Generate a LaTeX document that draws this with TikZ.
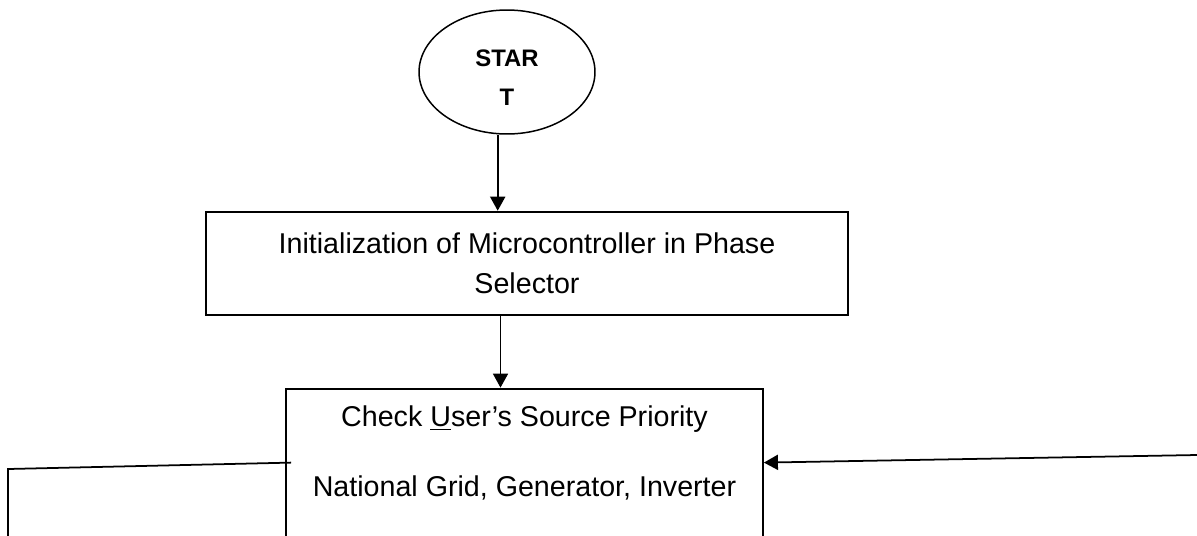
\documentclass[tikz,border=0pt]{standalone}
\usepackage{fontspec}
\setmainfont{Liberation Sans}
\usepackage{tikz}
\usetikzlibrary{shapes.geometric, arrows.meta, positioning, calc}

\begin{document}
\begin{tikzpicture}[
  x=0.02cm, y=-0.02cm,
  poc/.style={draw, ellipse, line width=0.85pt, inner sep=0pt, align=center,
              minimum width=3.52cm, minimum height=2.48cm,
              text height=1.34cm, text depth=0pt,
              font=\fontsize{13.6}{22.2}\selectfont\bfseries},
  st/.style={draw, rectangle, line width=1.1pt, align=center,
             font=\fontsize{16.3}{22.8}\selectfont},
  pr/.style={-{Triangle[length=0.28cm, width=0.3cm]}, line width=1pt},
  li/.style={line width=1pt}
]
  \useasboundingbox (0,0) rectangle (1197,535);
  \clip (0,0) rectangle (1197,535);

  \node[poc] (poc) at (507,72) {STAR\\T};
  \node[st, below=1.52cm of poc, xshift=0.4cm,
        minimum width=12.84cm, minimum height=2.06cm] (ini)
        {Initialization of Microcontroller in Phase\\Selector};
  \node[st, below=1.44cm of ini, xshift=-0.05cm,
        minimum width=9.54cm, text height=1.86cm, text depth=4cm, inner ysep=0.3cm,
        font=\fontsize{16.3}{39.8}\selectfont] (pro)
        {Check \underline{U}ser’s Source Priority\\National Grid, Generator, Inverter};

  \coordinate (lug) at (8,469);
  \coordinate (ldn) at (8,545);
  \coordinate (dul) at (1197,455);

  \draw[pr] ([xshift=-0.186cm]poc.south) -- ([xshift=-0.186cm]poc.south |- ini.north);
  \draw[pr] ([xshift=-0.53cm]ini.south) -- ([xshift=-0.53cm]ini.south |- pro.north);
  \draw[li] ([xshift=0.12cm, yshift=-1.5cm]pro.north west) -- (lug) -- (ldn);
  \draw[pr] (dul) -- ([yshift=-1.5cm]pro.north east);
\end{tikzpicture}
\end{document}
